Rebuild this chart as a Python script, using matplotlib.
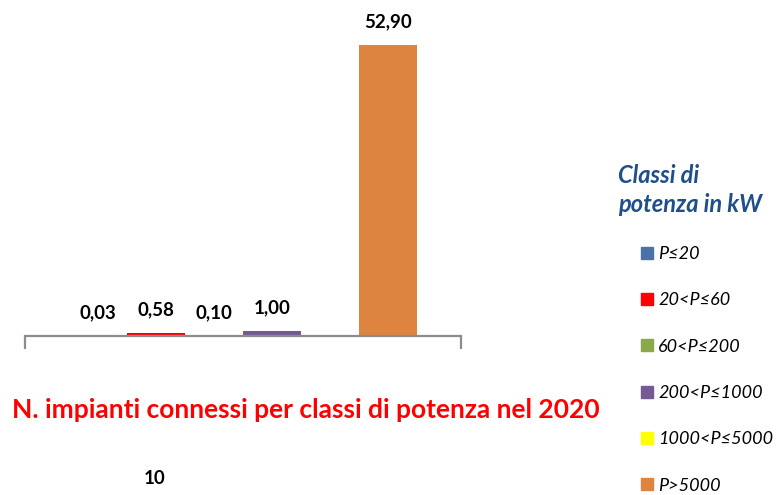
import numpy as np
import matplotlib
matplotlib.use("Agg")
from matplotlib import pyplot as plt

# Data
classes = ["P≤20", "20<P≤60", "60<P≤200", "200<P≤1000", "1000<P≤5000", "P>5000"]
values = [0.03, 0.58, 0.10, 1.00, np.nan, 52.90]
colors = ["#4A72A8", "#FF0000", "#8BA84B", "#735A93", "#FFFF00", "#DC8440"]

title = "N. impianti connessi per classi di potenza nel 2020"
legend_title = "Classi di\npotenza in kW"

plt.rcParams['font.family'] = ['Lato', 'DejaVu Sans']

W, H = 780, 495
fig = plt.figure(figsize=(W / 100, H / 100), dpi=100)

# axes placed in pixel terms: x from 25 to 461, baseline at y=336
ax = fig.add_axes([25 / W, (H - 336) / H, 436 / W, 330 / H])
ax.set_xlim(-1.25, 6.25)
ax.set_ylim(0, 60)

x = np.arange(len(classes))
heights = np.nan_to_num(values)
bars = ax.bar(x, heights, width=1.0, color=colors)

for xi, v in zip(x, values):
    if np.isnan(v):
        continue
    ax.annotate(f"{v:.2f}".replace(".", ","), (xi, v), xytext=(0, 23),
                textcoords="offset pixels", ha="center", va="center",
                fontsize=13.5, fontweight="bold", color="black")

for s in ["top", "left", "right"]:
    ax.spines[s].set_visible(False)
ax.spines["bottom"].set_color("#8C8C8C")
ax.spines["bottom"].set_linewidth(1.6)
ax.set_yticks([])
ax.set_xticks([-1.25, 6.25])
ax.set_xticklabels([])
ax.tick_params(axis="x", direction="out", length=9, width=1.6, color="#8C8C8C")

# legend
handles = [plt.Rectangle((0, 0), 1, 1, color=c) for c in colors]
leg = fig.legend(handles, classes, loc="upper left", bbox_to_anchor=(641 / W, 1 - 246 / H),
                 frameon=False, borderpad=0, borderaxespad=0,
                 prop={"style": "italic", "size": 13},
                 handlelength=0.66, handleheight=0.66, handletextpad=0.3,
                 labelspacing=1.68)

fig.text(618 / W, 1 - 190 / H, legend_title, color="#1F4E8C", fontsize=17,
         fontweight="bold", fontstyle="italic", ha="left", va="center",
         linespacing=1.35)

fig.text(306 / W, 1 - 410 / H, title, color="#FF0000", fontsize=19,
         fontweight="bold", ha="center", va="center")
fig.text(155 / W, 1 - 478 / H, "10", color="black", fontsize=13.5,
         fontweight="bold", ha="center", va="center")

fig.savefig("out.png", dpi=100)
